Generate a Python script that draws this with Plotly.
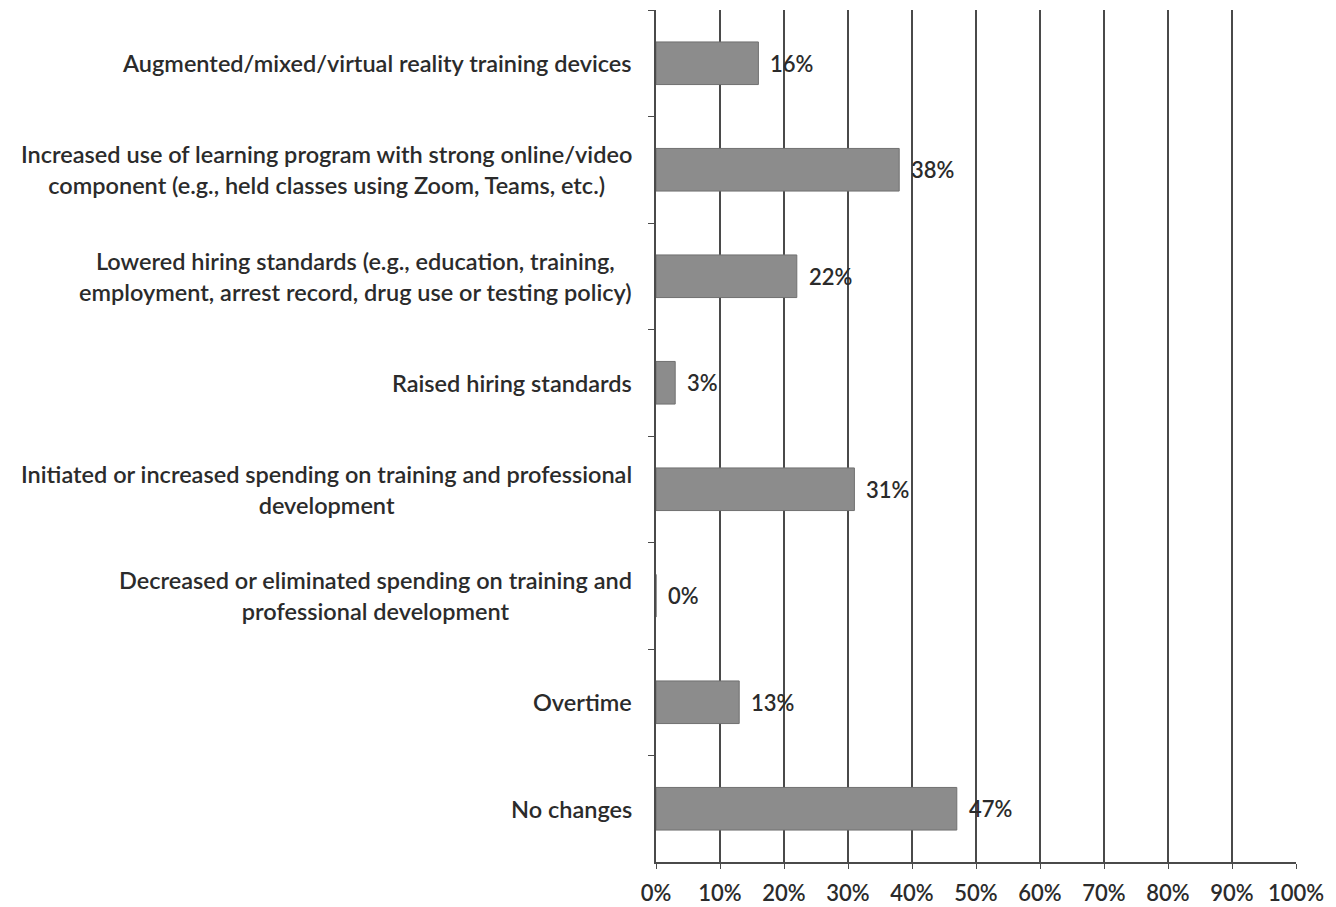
import plotly.graph_objects as go

categories = [
    "Augmented/mixed/virtual reality training devices",
    "Increased use of learning program with strong online/video<br>component (e.g., held classes using Zoom, Teams, etc.)",
    "Lowered hiring standards (e.g., education, training,<br>employment, arrest record, drug use or testing policy)",
    "Raised hiring standards",
    "Initiated or increased spending on training and professional<br>development",
    "Decreased or eliminated spending on training and<br>professional development",
    "Overtime",
    "No changes",
]
values = [16, 38, 22, 3, 31, 0, 13, 47]
labels = ["16%", "38%", "22%", "3%", "31%", "0%", "13%", "47%"]
x_ticks = [0, 10, 20, 30, 40, 50, 60, 70, 80, 90, 100]
x_tick_text = [f"{v}%" for v in x_ticks]

FONT = "Lato, 'Open Sans', sans-serif"
TXT = "#2b2b2b"
FS = 23.5

fig = go.Figure(go.Bar(
    x=values, y=categories, orientation="h",
    marker=dict(color="#8c8c8c", line=dict(color="#707070", width=1)),
    width=0.4, hoverinfo="skip",
))

ann = []
for c, v, l in zip(categories, values, labels):
    ann.append(dict(x=v, y=c, xref="x", yref="y", text=l, showarrow=False,
                    xanchor="left", yanchor="middle", xshift=10,
                    font=dict(family=FONT, size=22, color=TXT, weight=600)))
    ann.append(dict(x=0, y=c, xref="paper", yref="y", text=c, showarrow=False,
                    xanchor="right", yanchor="middle", xshift=-22, align="center",
                    font=dict(family=FONT, size=FS, color=TXT, weight=600)))

fig.update_layout(
    width=1320, height=899,
    margin=dict(l=648, r=32, t=2, b=45),
    paper_bgcolor="white", plot_bgcolor="white",
    showlegend=False, annotations=ann,
    font=dict(family=FONT, size=22, color=TXT),
)
fig.update_xaxes(
    range=[0, 100], tickvals=x_ticks, ticktext=x_tick_text,
    showgrid=True, gridcolor="#4a4a4a", gridwidth=1.5,
    showline=True, linecolor="#4a4a4a", linewidth=1.5,
    ticks="outside", ticklen=5, tickcolor="#4a4a4a",
    zeroline=False, fixedrange=True, ticklabelstandoff=6, automargin=False,
    tickfont=dict(family=FONT, size=22, color=TXT, weight=600),
)
fig.update_yaxes(
    autorange="reversed", showticklabels=False,
    ticks="outside", ticklen=6, tickcolor="#4a4a4a", tickson="boundaries",
    showline=True, linecolor="#4a4a4a", linewidth=1.5,
    showgrid=False, zeroline=False, fixedrange=True,
)

fig.write_html("out.html")
